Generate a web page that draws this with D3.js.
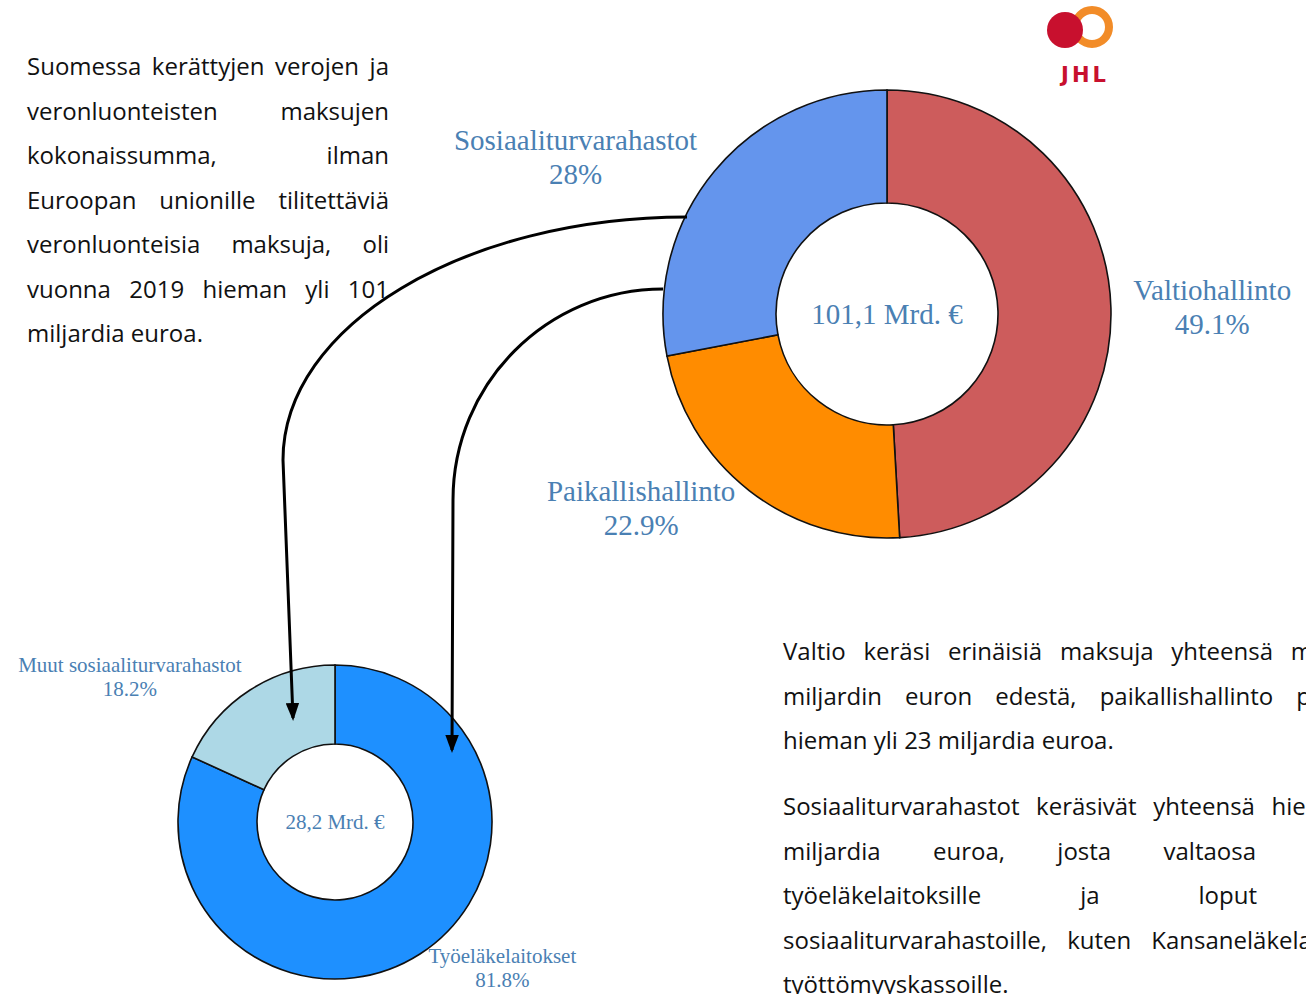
<!DOCTYPE html>
<html>
<head>
<meta charset="utf-8">
<script src="https://cdn.jsdelivr.net/npm/d3@7"></script>
<style>
  html, body { margin: 0; padding: 0; background: #fff; overflow: hidden; }
  #page { position: relative; width: 1306px; height: 994px; overflow: hidden; }
  svg { position: absolute; left: 0; top: 0; }
  .para { position: absolute; font-family: "Open Sans", Lato, sans-serif; font-size: 24px; color: #111; }
  .para div { line-height: 44.5px; height: 44.5px; white-space: nowrap; }
  .para div.j { text-align: justify; text-align-last: justify; }
</style>
</head>
<body>
<div id="page"></div>
<script>
// big donut
var mainCategories = ["Valtiohallinto", "Paikallishallinto", "Sosiaaliturvarahastot"];
var mainShares = [49.1, 22.9, 28];
var mainTotal = "101,1 Mrd. €";
// small donut (split of Sosiaaliturvarahastot)
var subCategories = ["Työeläkelaitokset", "Muut sosiaaliturvarahastot"];
var subShares = [81.8, 18.2];
var subTotal = "28,2 Mrd. €";

var leftText = [
  ["Suomessa kerättyjen verojen ja", true],
  ["veronluonteisten maksujen", true],
  ["kokonaissumma, ilman", true],
  ["Euroopan unionille tilitettäviä", true],
  ["veronluonteisia maksuja, oli", true],
  ["vuonna 2019 hieman yli 101", true],
  ["miljardia euroa.", false]
];
var rightText1 = [
  ["Valtio keräsi erinäisiä maksuja yhteensä m", 530],
  ["miljardin euron edestä, paikallishallinto p", 528],
  ["hieman yli 23 miljardia euroa.", 0]
];
var rightText2 = [
  ["Sosiaaliturvarahastot keräsivät yhteensä hiem", 545],
  ["miljardia euroa, josta valtaosa", 473],
  ["työeläkelaitoksille ja loput", 474],
  ["sosiaaliturvarahastoille, kuten Kansaneläkelai", 535],
  ["työttömyyskassoille.", 0]
];

var W = 1306, H = 994;
var page = d3.select("#page");

function addPara(left, top, lines, width) {
  var p = page.append("div").attr("class", "para")
    .style("left", left + "px").style("top", top + "px");
  lines.forEach(function(l) {
    var d = p.append("div").text(l[0]);
    if (width) {
      d.style("width", width + "px");
      if (l[1]) d.classed("j", true);
    } else if (l[1]) {
      d.classed("j", true).style("width", l[1] + "px");
    }
  });
}
addPara(27, 44, leftText, 362);
addPara(783, 629, rightText1, null);
addPara(783, 784, rightText2, null);

var svg = page.append("svg").attr("width", W).attr("height", H);

var defs = svg.append("defs");
defs.append("marker")
  .attr("id", "arrow")
  .attr("viewBox", "0 0 12 9")
  .attr("refX", 10).attr("refY", 4.5)
  .attr("markerWidth", 6).attr("markerHeight", 4.5)
  .attr("orient", "auto")
  .append("path")
  .attr("d", "M0,0 L12,4.5 L0,9 z")
  .attr("fill", "#000");

var labelColor = "#4a80b3";
var serif = "'Liberation Serif', 'DejaVu Serif', serif";

function donut(opts) {
  var g = svg.append("g").attr("transform", "translate(" + opts.cx + "," + opts.cy + ")");
  var data = opts.cats.map(function(c, i) { return { name: c, value: opts.values[i] }; });
  var color = d3.scaleOrdinal().domain(opts.cats).range(opts.colors);
  var pie = d3.pie().sort(null).value(function(d) { return d.value; });
  var arc = d3.arc().innerRadius(opts.r0).outerRadius(opts.r1);
  var arcs = pie(data);

  g.selectAll("path.slice")
    .data(arcs)
    .enter()
    .append("path")
    .attr("class", "slice")
    .attr("d", arc)
    .attr("fill", function(d) { return color(d.data.name); })
    .attr("stroke", "#111")
    .attr("stroke-width", 1.6);

  // labels: block anchored at 1.1 * r along mid angle (left/right aligned), lines centered
  var lr = opts.r1 * 1.1;
  arcs.forEach(function(a) {
    var mid = (a.startAngle + a.endAngle) / 2;
    var x = Math.sin(mid) * lr, y = -Math.cos(mid) * lr;
    var lines = [a.data.name, a.data.value + "%"];
    var t = g.append("text")
      .attr("fill", labelColor)
      .attr("font-family", serif)
      .attr("font-size", opts.fs)
      .attr("text-anchor", "middle");
    var spans = lines.map(function(s, i) {
      return t.append("tspan").text(s);
    });
    var wmax = d3.max(spans, function(s) { return s.node().getComputedTextLength(); });
    var bx = x > 0 ? x + wmax / 2 : x - wmax / 2;
    var y0 = y - (lines.length - 1) * opts.lh / 2 + opts.fs * 0.35;
    spans.forEach(function(s, i) {
      s.attr("x", bx).attr("y", y0 + i * opts.lh);
    });
  });

  g.append("text")
    .attr("fill", labelColor)
    .attr("font-family", serif)
    .attr("font-size", opts.fs)
    .attr("text-anchor", "middle")
    .attr("dy", "0.35em")
    .text(opts.total);
}

donut({ cx: 887, cy: 314, r0: 111, r1: 224, cats: mainCategories, values: mainShares,
  colors: ["#cd5c5c", "#ff8c00", "#6495ed"], total: mainTotal, fs: 29, lh: 34 });
donut({ cx: 335, cy: 822, r0: 78, r1: 157, cats: subCategories, values: subShares,
  colors: ["#1e90ff", "#add8e6"], total: subTotal, fs: 21, lh: 24 });

// connecting arrows (quarter-ellipse bends, then down)
var k = 0.552;
var p1 = d3.path();
p1.moveTo(687, 217);
p1.bezierCurveTo(687 - 404 * k, 217, 283, 460 - 243 * k, 283, 460);
p1.lineTo(293, 718);
var p2 = d3.path();
p2.moveTo(663, 289);
p2.bezierCurveTo(663 - 210 * k, 289, 453, 500 - 211 * k, 453, 500);
p2.lineTo(452, 750);
[p1, p2].forEach(function(p) {
  svg.append("path")
    .attr("d", p.toString())
    .attr("fill", "none")
    .attr("stroke", "#000")
    .attr("stroke-width", 3)
    .attr("marker-end", "url(#arrow)");
});

// JHL logo
var logo = svg.append("g");
logo.append("circle").attr("cx", 1092).attr("cy", 27).attr("r", 17)
  .attr("fill", "none").attr("stroke", "#f28c28").attr("stroke-width", 8);
logo.append("circle").attr("cx", 1065).attr("cy", 30).attr("r", 18).attr("fill", "#c8102e");
logo.append("text").attr("x", 1085).attr("y", 82)
  .attr("text-anchor", "middle")
  .attr("font-family", "'DejaVu Sans', sans-serif")
  .attr("font-weight", "bold")
  .attr("font-size", 21)
  .attr("letter-spacing", 3)
  .attr("fill", "#c8102e")
  .text("JHL");
</script>
</body>
</html>
